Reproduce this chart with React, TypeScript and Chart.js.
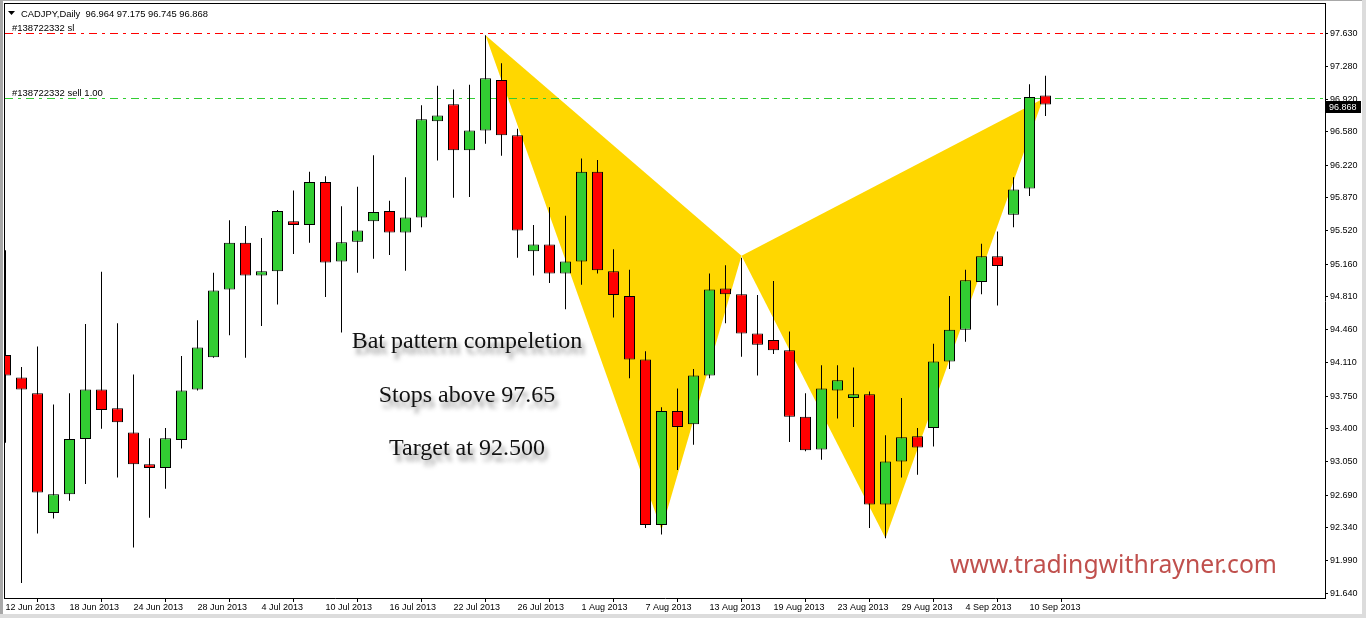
import React, { useEffect, useRef } from 'react';
import { Chart, registerables } from 'chart.js';

Chart.register(...registerables);

// ---- data ----
const TICK_INDEX = [0, 4, 8, 12, 16, 20, 24, 28, 32, 36, 40, 44, 48, 52, 56, 60, 64];
const DATE_LABELS = [
  '12 Jun 2013', '18 Jun 2013', '24 Jun 2013', '28 Jun 2013', '4 Jul 2013', '10 Jul 2013',
  '16 Jul 2013', '22 Jul 2013', '26 Jul 2013', '1 Aug 2013', '7 Aug 2013', '13 Aug 2013',
  '19 Aug 2013', '23 Aug 2013', '29 Aug 2013', '4 Sep 2013', '10 Sep 2013',
];

const OPEN = [
  94.19, 93.95, 93.78, 92.50, 92.70, 93.29, 93.82, 93.62, 93.36, 93.02,
  92.98, 93.28, 93.82, 94.165, 94.89, 95.39, 95.04, 95.085, 95.62, 95.58,
  96.04, 95.19, 95.40, 95.62, 95.73, 95.50, 95.66, 96.69, 96.87, 96.38,
  96.59, 97.13, 96.54, 95.30, 95.37, 95.06, 95.19, 96.15, 95.085, 94.82,
  94.14, 92.37, 93.59, 93.45, 93.97, 94.90, 94.84, 94.42, 94.35, 94.24,
  93.53, 93.18, 93.81, 93.73, 93.77, 92.59, 93.05, 93.32, 93.41, 94.12,
  94.46, 94.97, 95.245, 95.69, 95.97, 96.964,
];
const HIGH = [
  95.31, 94.06, 94.28, 93.66, 93.78, 94.52, 95.08, 94.53, 93.98, 93.30,
  93.41, 94.18, 94.56, 95.07, 95.63, 95.57, 95.44, 95.74, 95.95, 96.15,
  96.10, 95.78, 95.99, 96.325, 95.84, 96.09, 96.86, 97.07, 97.03, 97.08,
  97.61, 97.31, 96.61, 95.58, 95.77, 95.68, 96.29, 96.275, 95.32, 95.10,
  94.23, 93.63, 93.83, 94.04, 95.06, 95.15, 95.23, 94.83, 94.98, 94.44,
  93.78, 94.08, 94.08, 94.055, 93.80, 93.33, 93.73, 93.41, 94.31, 94.82,
  95.10, 95.38, 95.51, 96.09, 97.085, 97.175,
];
const LOW = [
  93.25, 91.75, 92.28, 92.44, 92.63, 92.81, 93.40, 92.88, 92.13, 92.45,
  92.76, 93.19, 93.81, 94.16, 94.40, 94.16, 94.50, 94.73, 95.27, 95.39,
  94.81, 94.43, 95.07, 95.22, 95.26, 95.09, 95.555, 96.27, 95.87, 95.88,
  96.45, 96.32, 95.23, 95.04, 94.96, 94.68, 94.94, 95.06, 94.59, 93.94,
  92.34, 92.27, 92.96, 93.23, 93.94, 94.53, 94.17, 93.97, 94.20, 93.26,
  93.16, 93.07, 93.51, 93.42, 92.34, 92.23, 92.88, 92.91, 93.21, 94.04,
  94.33, 94.84, 94.72, 95.555, 95.89, 96.745,
];
const CLOSE = [
  93.97, 93.82, 92.72, 92.70, 93.29, 93.82, 93.60, 93.47, 93.02, 92.98,
  93.30, 93.81, 94.27, 94.88, 95.39, 95.04, 95.085, 95.73, 95.58, 96.04,
  95.18, 95.395, 95.52, 95.72, 95.50, 95.66, 96.71, 96.75, 96.38, 96.59,
  97.15, 96.54, 95.52, 95.37, 95.06, 95.19, 96.15, 95.095, 94.83, 94.14,
  92.37, 93.59, 93.42, 93.97, 94.89, 94.84, 94.42, 94.30, 94.24, 93.53,
  93.17, 93.83, 93.92, 93.77, 92.59, 93.05, 93.31, 93.20, 94.12, 94.46,
  94.99, 95.245, 95.14, 95.96, 96.95, 96.868,
];

const Y_TICKS = [
  97.63, 97.28, 96.92, 96.58, 96.22, 95.87, 95.52, 95.16, 94.81,
  94.46, 94.11, 93.75, 93.40, 93.05, 92.69, 92.34, 91.99, 91.64,
];

// bat pattern X, A, B, C, D (bar index, price)
const PATTERN_X = [30, 41, 46, 55, 64.85];
const PATTERN_Y = [97.61, 92.32, 95.25, 92.23, 96.93];

const SL_LEVEL = 97.63;
const SELL_LEVEL = 96.935;
const SL_LABEL = '#138722332 sl';
const SELL_LABEL = '#138722332 sell 1.00';
const HEADER = 'CADJPY,Daily  96.964 97.175 96.745 96.868';
const LAST_PRICE = 96.868;
const NOTES = ['Bat pattern compeletion', 'Stops above 97.65', 'Target at 92.500'];
const WEBSITE = 'www.tradingwithrayner.com';

const UP = '#32CD32';
const DOWN = '#FF0000';
const SANS = "'Liberation Sans', Arial, sans-serif";

const overlayPlugin = {
  id: 'overlay',
  beforeDatasetsDraw(chart: any) {
    const { ctx, chartArea: a, scales } = chart;
    const x = scales.x;
    const y = scales.y;
    ctx.save();
    ctx.beginPath();
    ctx.rect(a.left, a.top, a.right - a.left, a.bottom - a.top);
    ctx.clip();
    ctx.fillStyle = '#FFD700';
    [[0, 1, 2], [2, 3, 4]].forEach((tri) => {
      ctx.beginPath();
      tri.forEach((k, j) => {
        const px = x.getPixelForValue(PATTERN_X[k]);
        const py = y.getPixelForValue(PATTERN_Y[k]);
        if (j === 0) ctx.moveTo(px, py);
        else ctx.lineTo(px, py);
      });
      ctx.closePath();
      ctx.fill();
    });
    const level = (v: number, color: string, text: string) => {
      const py = Math.round(y.getPixelForValue(v)) + 0.5;
      ctx.strokeStyle = color;
      ctx.lineWidth = 1;
      ctx.setLineDash([8, 5, 3, 5]);
      ctx.beginPath();
      ctx.moveTo(a.left, py);
      ctx.lineTo(a.right, py);
      ctx.stroke();
      ctx.setLineDash([]);
      ctx.fillStyle = '#000';
      ctx.font = `9.5px ${SANS}`;
      ctx.textAlign = 'left';
      ctx.textBaseline = 'alphabetic';
      ctx.fillText(text, 12, py - 3);
    };
    level(SL_LEVEL, '#FF0000', SL_LABEL);
    level(SELL_LEVEL, '#32CD32', SELL_LABEL);
    ctx.restore();
  },
  afterDraw(chart: any) {
    const { ctx, chartArea: a, scales } = chart;
    const y = scales.y;
    ctx.save();

    // notes with shadow
    ctx.font = "24px 'Liberation Serif', 'Times New Roman', serif";
    ctx.textAlign = 'center';
    ctx.textBaseline = 'alphabetic';
    ctx.fillStyle = '#121212';
    ctx.shadowColor = 'rgba(40,40,40,0.5)';
    ctx.shadowBlur = 4;
    ctx.shadowOffsetX = 3;
    ctx.shadowOffsetY = 6;
    const noteY = [348, 402, 455];
    NOTES.forEach((t, i) => ctx.fillText(t, 467, noteY[i]));
    ctx.shadowColor = 'transparent';
    ctx.shadowBlur = 0;
    ctx.shadowOffsetX = 0;
    ctx.shadowOffsetY = 0;

    // website
    ctx.font = "25px 'Noto Sans', sans-serif";
    ctx.textAlign = 'left';
    ctx.fillStyle = '#C0504D';
    ctx.fillText(WEBSITE, 950, 573, 327);

    // header
    ctx.fillStyle = '#000';
    ctx.beginPath();
    ctx.moveTo(8, 11);
    ctx.lineTo(15, 11);
    ctx.lineTo(11.5, 15);
    ctx.closePath();
    ctx.fill();
    ctx.font = `9.5px ${SANS}`;
    ctx.fillText(HEADER, 21, 16.5, 187);

    // last price box
    const yc = y.getPixelForValue(LAST_PRICE);
    const top = Math.round(yc - 4);
    ctx.fillStyle = '#000';
    ctx.fillRect(a.right + 1, top, 35, 12);
    ctx.fillStyle = '#fff';
    ctx.font = `9px ${SANS}`;
    ctx.textBaseline = 'middle';
    ctx.fillText(LAST_PRICE.toFixed(3), a.right + 4, top + 6.5);

    // frame (left and top)
    ctx.fillStyle = '#000';
    ctx.fillRect(a.left - 1, a.top - 1, 1, a.bottom - a.top + 2);
    ctx.fillRect(a.left - 1, a.top - 1, a.right - a.left + 2, 1);

    // window borders
    ctx.fillStyle = '#a8a8a8';
    ctx.fillRect(0, 0, 3, chart.height);
    ctx.fillRect(0, 0, chart.width, 1);
    ctx.fillStyle = '#dcdcdc';
    ctx.fillRect(chart.width - 4, 0, 4, chart.height);
    ctx.fillRect(0, chart.height - 4, chart.width, 4);
    ctx.restore();
  },
};

export default function App() {
  const canvasRef = useRef<HTMLCanvasElement | null>(null);

  useEffect(() => {
    document.body.style.margin = '0';
    const canvas = canvasRef.current;
    if (!canvas) return;
    const idx = OPEN.map((_, i) => i);
    const colors = idx.map((i) => (CLOSE[i] >= OPEN[i] ? UP : DOWN));

    const chart = new Chart(canvas, {
      type: 'bar',
      data: {
        datasets: [
          {
            label: 'Body',
            data: idx.map((i) => ({ x: i, y: [OPEN[i], CLOSE[i]] })) as any,
            backgroundColor: colors,
            borderColor: '#000',
            borderWidth: 1,
            borderSkipped: false,
            inflateAmount: 0,
            barThickness: 11,
            grouped: false,
            clip: 0,
            order: 1,
          } as any,
          {
            label: 'Wick',
            data: idx.map((i) => ({ x: i, y: [LOW[i], HIGH[i]] })) as any,
            backgroundColor: '#000',
            borderWidth: 0,
            inflateAmount: 0,
            barThickness: 1,
            grouped: false,
            clip: 0,
            order: 2,
          } as any,
        ],
      },
      options: {
        animation: false,
        responsive: false,
        maintainAspectRatio: false,
        layout: { padding: { left: 5, top: 4, right: 0, bottom: 0 } },
        plugins: {
          legend: { display: false },
          tooltip: { enabled: false },
        },
        scales: {
          x: {
            type: 'linear',
            min: -0.03125,
            max: 82.46875,
            offset: false,
            grid: { display: true, drawOnChartArea: false, drawTicks: true, tickLength: 4, color: '#000' },
            border: { display: true, color: '#000' },
            afterBuildTicks: (s: any) => {
              s.ticks = TICK_INDEX.map((v) => ({ value: v }));
            },
            afterFit: (s: any) => {
              s.height = 20;
              s.paddingLeft = 0;
              s.paddingRight = 0;
            },
            ticks: {
              autoSkip: false,
              maxRotation: 0,
              minRotation: 0,
              align: 'start',
              padding: 0,
              color: '#000',
              font: { family: SANS, size: 9 },
              callback: (v: any) => {
                const k = TICK_INDEX.indexOf(Number(v));
                return k >= 0 ? DATE_LABELS[k] : '';
              },
            },
          } as any,
          y: {
            type: 'linear',
            position: 'right',
            min: 91.5905,
            max: 97.9434,
            grid: { display: true, drawOnChartArea: false, drawTicks: true, tickLength: 3, color: '#000' },
            border: { display: true, color: '#000' },
            afterBuildTicks: (s: any) => {
              s.ticks = Y_TICKS.map((v) => ({ value: v }));
            },
            afterFit: (s: any) => {
              s.width = 41;
              s.paddingTop = 0;
              s.paddingBottom = 0;
            },
            ticks: {
              padding: 2,
              color: '#000',
              font: { family: SANS, size: 9 },
              callback: (v: any) => Number(v).toFixed(3),
            },
          } as any,
        },
      },
      plugins: [overlayPlugin],
    });

    return () => chart.destroy();
  }, []);

  return (
    <div style={{ width: 1366, height: 618, background: '#fff' }}>
      <canvas ref={canvasRef} width={1366} height={618} style={{ display: 'block' }} />
    </div>
  );
}
